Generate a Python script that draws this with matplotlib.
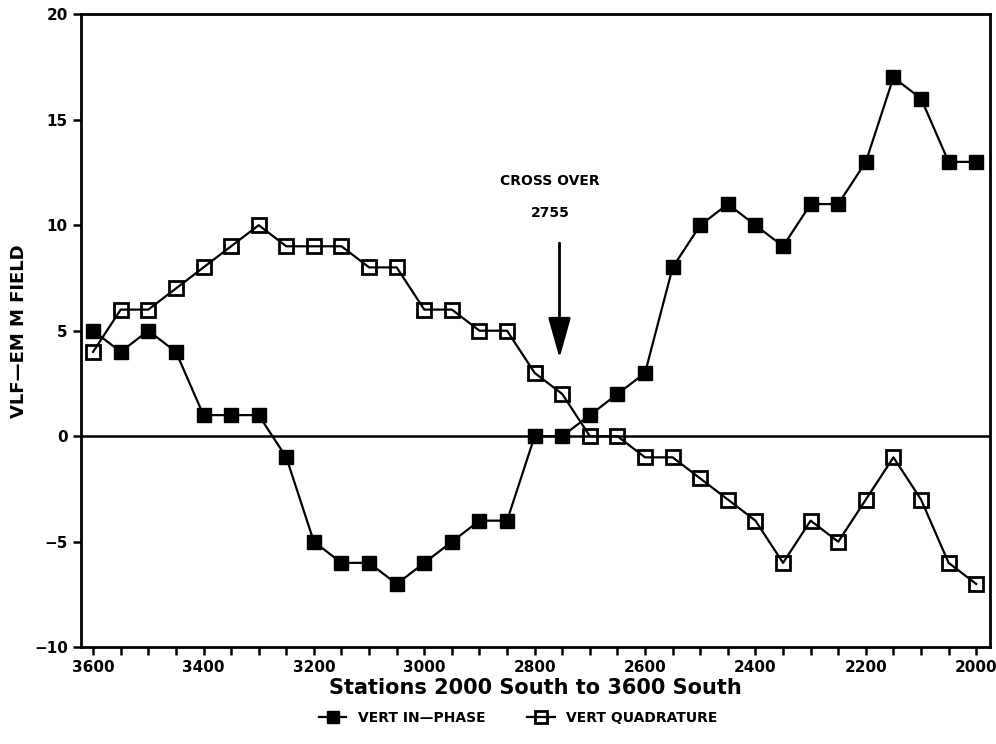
import matplotlib.pyplot as plt
import numpy as np

stations = np.arange(3600, 1999, -50)
in_phase = [5, 4, 5, 4, 1, 1, 1, -1, -5, -6, -6, -7, -6, -5, -4, -4, 0,
            0, 1, 2, 3, 8, 10, 11, 10, 9, 11, 11, 13, 17, 16, 13, 13]
quadrature = [4, 6, 6, 7, 8, 9, 10, 9, 9, 9, 8, 8, 6, 6, 5, 5, 3,
              2, 0, 0, -1, -1, -2, -3, -4, -6, -4, -5, -3, -1, -3, -6, -7]

plt.rcParams['font.family'] = 'DejaVu Sans'
plt.rcParams['font.weight'] = 'bold'

fig = plt.figure(figsize=(9.96, 7.44), dpi=100)
ax = fig.add_axes([0.0813, 0.130, 0.9127, 0.851])

ax.plot(stations, in_phase, color='black', lw=1.6, marker='s', ms=10.5,
        mfc='black', mec='black', label='VERT IN\u2014PHASE')
ax.plot(stations, quadrature, color='black', lw=1.6, marker='s', ms=10.5,
        mfc='none', mec='black', mew=2, label='VERT QUADRATURE')
ax.axhline(0, color='black', lw=1.8)

# cross-over arrow
ax.annotate('', xy=(2755, 3.7), xytext=(2755, 9.15),
            arrowprops=dict(arrowstyle='-|>,head_length=2.5,head_width=0.7',
                            color='black', lw=2, shrinkA=0, shrinkB=0))
ax.text(2772, 12.1, 'CROSS OVER', ha='center', va='center', fontsize=10, fontweight='bold')
ax.text(2772, 10.6, '2755', ha='center', va='center', fontsize=10, fontweight='bold')

ax.set_xlim(3622, 1975)
ax.set_ylim(-10, 20)
ax.set_xticks(np.arange(3600, 1999, -200))
ax.set_xticks(np.arange(3600, 1999, -50), minor=True)
ax.set_yticks(np.arange(-10, 21, 5))
ax.tick_params(axis='both', which='both', direction='out', width=1.8, labelsize=11)
ax.tick_params(axis='x', which='both', length=6)
ax.tick_params(axis='y', length=6)
for s in ax.spines.values():
    s.set_linewidth(2)
ax.set_xlabel('Stations 2000 South to 3600 South', fontsize=15, fontweight='bold', labelpad=2)
ax.set_ylabel('VLF\u2014EM M FIELD', fontsize=13, fontweight='bold', labelpad=4)

fig.legend(loc='center', bbox_to_anchor=(0.52, 0.035), ncol=2, frameon=False,
           fontsize=10, handlelength=2.0, columnspacing=3, markerscale=0.85)

fig.savefig('out.png', dpi=100)
